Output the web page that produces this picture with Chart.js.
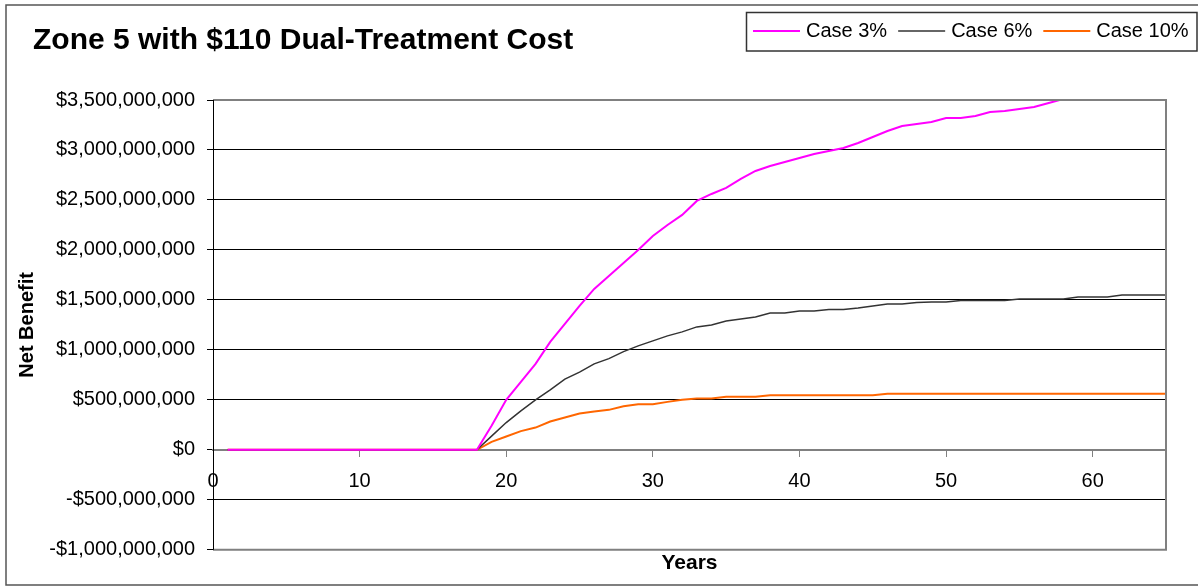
<!DOCTYPE html>
<html>
<head>
<meta charset="utf-8">
<script src="https://cdn.jsdelivr.net/npm/chart.js@4.4.1/dist/chart.umd.min.js"></script>
<style>
  html, body { margin: 0; padding: 0; background: #ffffff; }
  #wrap { width: 1198px; height: 586px; position: relative; }
</style>
</head>
<body>
<div id="wrap"><canvas id="c" width="1198" height="586"></canvas></div>
<script>
// ---- data (values in millions of dollars) ----
const chartTitle = 'Zone 5 with $110 Dual-Treatment Cost';
const xTitle = 'Years';
const yTitle = 'Net Benefit';
const seriesNames = ['Case 3%', 'Case 6%', 'Case 10%'];
const seriesColors = ['#FF00FF', '#333333', '#FF6600'];
const years = [1,2,3,4,5,6,7,8,9,10,11,12,13,14,15,16,17,18,19,20,21,22,23,24,25,26,27,28,29,30,31,32,33,34,35,36,37,38,39,40,41,42,43,44,45,46,47,48,49,50,51,52,53,54,55,56,57,58,59,60,61,62,63,64,65];
const case3 = [0,0,0,0,0,0,0,0,0,0,0,0,0,0,0,0,0,0,
  240,500,680,860,1080,1260,1440,1610,1740,1870,2000,2140,2250,2350,2490,2560,2620,2710,2790,2840,2880,2920,2960,2990,3020,3070,3130,3190,3240,3260,3280,3320,3320,3340,3380,3390,3410,3430,3470,3510,3530,3560,3580,3600,3620,3640,3660];
const case6 = [0,0,0,0,0,0,0,0,0,0,0,0,0,0,0,0,0,0,
  137,273,390,500,600,707,777,860,913,983,1040,1090,1140,1180,1230,1250,1290,1310,1330,1370,1370,1390,1390,1405,1405,1420,1440,1460,1460,1475,1480,1480,1495,1495,1495,1495,1510,1510,1510,1510,1530,1530,1530,1550,1550,1550,1550];
const case10 = [0,0,0,0,0,0,0,0,0,0,0,0,0,0,0,0,0,0,
  80,133,187,223,283,323,363,383,400,437,457,457,480,500,513,513,530,530,530,545,545,545,545,545,545,545,545,560,560,560,560,560,560,560,560,560,560,560,560,560,560,560,560,560,560,560,560];
const yMin = -1000, yMax = 3500, yStep = 500;
const xMin = 0, xMax = 65, xStep = 10;

const FONT = "'Liberation Sans', Arial, Helvetica, sans-serif";

function toPoints(vals) { return years.map((y, i) => ({ x: y, y: vals[i] })); }
function fmtMoney(v) {
  const dollars = Math.round(v * 1e6);
  const s = Math.abs(dollars).toString().replace(/\B(?=(\d{3})+(?!\d))/g, ',');
  return (dollars < 0 ? '-$' : '$') + s;
}

const decor = {
  id: 'decor',
  afterDraw(chart) {
    const ctx = chart.ctx;
    const a = chart.chartArea;
    ctx.save();
    // plot frame (top, right, bottom) in gray
    ctx.strokeStyle = '#808080';
    ctx.lineWidth = 2;
    ctx.beginPath();
    ctx.moveTo(a.left, a.top); ctx.lineTo(a.right, a.top);
    ctx.lineTo(a.right, a.bottom); ctx.lineTo(a.left, a.bottom);
    ctx.stroke();
    // redraw the left axis line in black
    ctx.strokeStyle = '#000000';
    ctx.lineWidth = 1;
    ctx.beginPath();
    ctx.moveTo(a.left + 0.5, a.top); ctx.lineTo(a.left + 0.5, a.bottom);
    ctx.stroke();
    // outer frame
    ctx.strokeStyle = '#555555';
    ctx.lineWidth = 1.5;
    ctx.strokeRect(6, 5, 1210, 580);
    // title
    ctx.fillStyle = '#000000';
    ctx.font = 'bold 30px ' + FONT;
    ctx.textAlign = 'left';
    ctx.textBaseline = 'alphabetic';
    ctx.fillText(chartTitle, 33, 49);
    // legend
    ctx.fillStyle = '#ffffff';
    ctx.fillRect(746, 12, 451, 39);
    ctx.strokeStyle = '#333333';
    ctx.lineWidth = 1.5;
    ctx.strokeRect(746.5, 12.5, 450.5, 38.5);
    ctx.font = '20px ' + FONT;
    let x = 753;
    chart.data.datasets.forEach(ds => {
      ctx.strokeStyle = ds.borderColor;
      ctx.lineWidth = ds.borderWidth;
      ctx.beginPath();
      ctx.moveTo(x, 31); ctx.lineTo(x + 47, 31);
      ctx.stroke();
      x += 53;
      ctx.fillStyle = '#000000';
      ctx.fillText(ds.label, x, 37);
      x += ctx.measureText(ds.label).width + 11;
    });
    ctx.restore();
  }
};

new Chart(document.getElementById('c'), {
  type: 'line',
  data: {
    datasets: [
      { label: seriesNames[0], data: toPoints(case3), borderColor: seriesColors[0], borderWidth: 2 },
      { label: seriesNames[1], data: toPoints(case6), borderColor: seriesColors[1], borderWidth: 1.5 },
      { label: seriesNames[2], data: toPoints(case10), borderColor: seriesColors[2], borderWidth: 2 }
    ]
  },
  options: {
    responsive: false,
    animation: false,
    devicePixelRatio: 1,
    parsing: true,
    elements: { point: { radius: 0 }, line: { tension: 0, fill: false } },
    layout: { padding: { left: 0, top: 100, right: 32, bottom: 10 } },
    plugins: {
      legend: { display: false },
      title: { display: false },
      tooltip: { enabled: false },
      subtitle: {
        display: true, text: xTitle, position: 'bottom', fullSize: false, align: 'center',
        color: '#000000', font: { family: FONT, size: 21, weight: 'bold' },
        padding: { top: 1, bottom: 0 }
      }
    },
    scales: {
      x: {
        type: 'linear', min: xMin, max: xMax, position: { y: 0 },
        afterFit(scale) { scale.height = 0; },
        ticks: { stepSize: xStep, includeBounds: false, color: '#000000', padding: 14,
                 font: { family: FONT, size: 20 }, maxRotation: 0 },
        grid: { drawOnChartArea: false, drawTicks: true, tickLength: 6, tickColor: '#808080', tickWidth: 1 },
        border: { display: true, color: '#808080', width: 2 }
      },
      y: {
        type: 'linear', min: yMin, max: yMax, position: 'left',
        afterFit(scale) { scale.width = 213; },
        ticks: { stepSize: yStep, color: '#000000', padding: 12,
                 font: { family: FONT, size: 20 }, callback: v => fmtMoney(v) },
        grid: { color: '#000000', lineWidth: 1, tickLength: 6, tickColor: '#000000' },
        border: { display: true, color: '#000000', width: 1 },
        title: { display: true, text: yTitle, color: '#000000',
                 font: { family: FONT, size: 20, weight: 'bold' }, padding: { top: 15, bottom: 0 } }
      }
    }
  },
  plugins: [decor]
});
</script>
</body>
</html>
